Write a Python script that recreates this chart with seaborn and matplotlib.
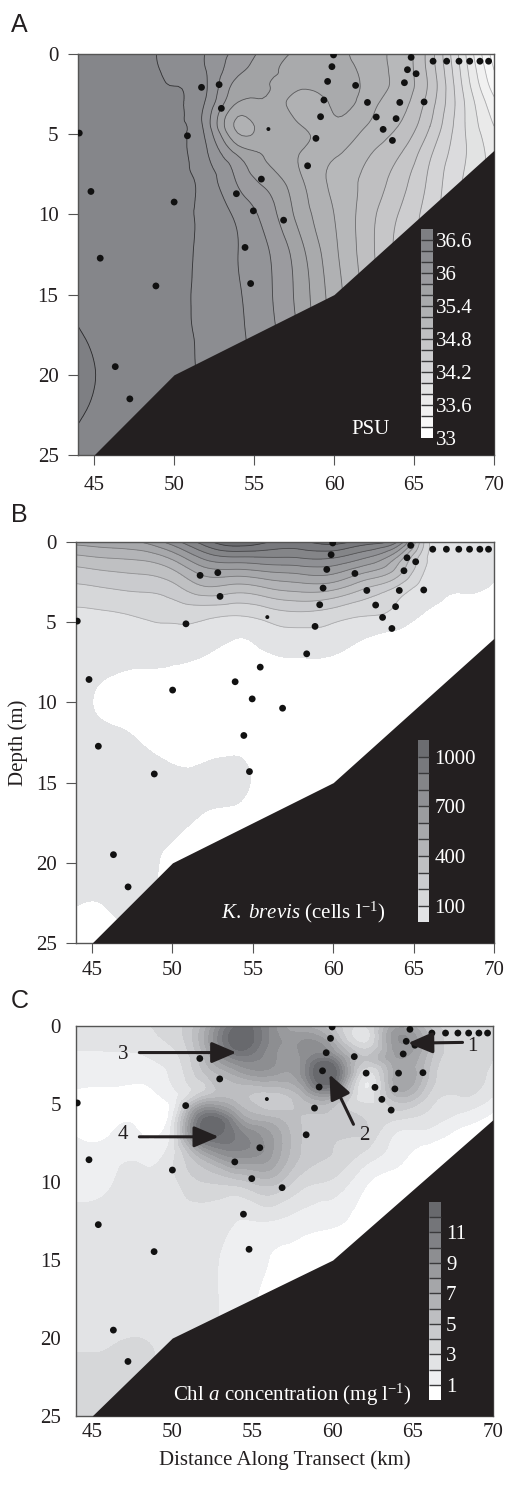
import numpy as np
import matplotlib
matplotlib.use("Agg")
import matplotlib.pyplot as plt
import matplotlib.tri as mtri
from matplotlib.colors import ListedColormap
import seaborn as sns

# ---------------- data ----------------
GRID_KM = [44, 46, 48, 50, 52, 54, 56, 58, 60, 62, 64, 66, 68, 70]
GRID_DEPTH_M = [0, 1, 2, 3, 4.5, 6, 8, 10, 12.5, 15, 17.5, 20, 22.5, 25]

# salinity (PSU), one row per depth of GRID_DEPTH_M, columns along GRID_KM
SALINITY_BY_DEPTH = [
    [36.50, 36.50, 36.47, 36.33, 36.19, 35.93, 35.70, 35.55, 35.45, 35.30, 35.15, 34.70, 33.90, 33.10],
    [36.50, 36.50, 36.47, 36.36, 36.20, 35.85, 35.65, 35.52, 35.48, 35.33, 35.15, 34.72, 33.95, 33.20],
    [36.50, 36.50, 36.47, 36.40, 36.22, 35.72, 35.60, 35.45, 35.50, 35.35, 35.15, 34.75, 34.00, 33.30],
    [36.50, 36.50, 36.47, 36.42, 36.18, 35.60, 35.57, 35.25, 35.45, 35.30, 35.10, 34.70, 34.05, 33.45],
    [36.50, 36.50, 36.47, 36.43, 36.12, 35.35, 35.55, 35.40, 35.35, 35.20, 35.00, 34.60, 34.05, 33.60],
    [36.50, 36.50, 36.47, 36.43, 36.22, 35.70, 35.55, 35.40, 35.25, 35.05, 34.85, 34.45, 34.05, 33.70],
    [36.50, 36.50, 36.47, 36.43, 36.32, 35.98, 35.72, 35.42, 35.15, 34.95, 34.70, 34.35, 34.00, 33.75],
    [36.50, 36.50, 36.47, 36.43, 36.36, 36.15, 35.88, 35.50, 35.20, 34.90, 34.60, 34.30, 34.00, 33.80],
    [36.52, 36.50, 36.47, 36.43, 36.36, 36.20, 36.00, 35.65, 35.25, 34.90, 34.55, 34.30, 34.00, 33.80],
    [36.55, 36.50, 36.47, 36.43, 36.36, 36.22, 36.02, 35.70, 35.30, 34.95, 34.60, 34.30, 34.00, 33.80],
    [36.62, 36.52, 36.47, 36.43, 36.37, 36.24, 36.05, 35.75, 35.35, 35.00, 34.65, 34.30, 34.00, 33.80],
    [36.68, 36.55, 36.48, 36.43, 36.38, 36.25, 36.08, 35.80, 35.40, 35.05, 34.70, 34.35, 34.00, 33.80],
    [36.62, 36.53, 36.48, 36.43, 36.38, 36.25, 36.08, 35.80, 35.40, 35.05, 34.70, 34.35, 34.00, 33.80],
    [36.55, 36.50, 36.48, 36.43, 36.38, 36.25, 36.08, 35.80, 35.40, 35.05, 34.70, 34.35, 34.00, 33.80],
]

# K. brevis (cells/l), one column per GRID_KM position, rows along GRID_DEPTH_M (negative = absent)
KBREVIS_BY_KM = [
    [530, 370, 250, 170, 80, 60, 55, 55, 55, 55, 55, 50, 5, -50],
    [560, 400, 280, 190, 90, 55, 15, -30, 40, 55, 55, 50, 10, -50],
    [600, 420, 300, 210, 110, 65, -5, -40, 0, 45, 50, 45, 40, -50],
    [750, 520, 360, 250, 130, 60, -10, -50, -40, 30, 30, -30, -50, -50],
    [950, 720, 520, 360, 130, 50, -40, -60, -40, 25, -20, -50, -50, -50],
    [1080, 780, 530, 330, 110, 0, -50, -60, -30, 30, -40, -50, -50, -50],
    [1000, 790, 570, 380, 150, 40, -40, -60, -60, -50, -50, -50, -50, -50],
    [980, 800, 600, 420, 180, 60, -30, -60, -60, -60, -60, -60, -60, -60],
    [1040, 800, 600, 400, 150, 50, -40, -60, -60, -60, -60, -60, -60, -60],
    [950, 700, 480, 280, 110, 0, -50, -60, -60, -60, -60, -60, -60, -60],
    [800, 480, 330, 160, 70, -40, -50, -60, -60, -60, -60, -60, -60, -60],
    [90, 80, 60, 40, -20, -60, -60, -60, -60, -60, -60, -60, -60, -60],
    [60, 55, 50, 10, -50, -60, -60, -60, -60, -60, -60, -60, -60, -60],
    [50, 45, 15, -20, -50, -60, -60, -60, -60, -60, -60, -60, -60, -60],
]

# Chl a (mg/l), one column per GRID_KM position, rows along GRID_DEPTH_M
CHL_BY_KM = [
    [2.5, 2.3, 1.8, 1.5, 0.8, 0.7, 1.3, 1.7, 2.3, 2.5, 2.5, 2.8, 3.3, 3.5],
    [2.6, 2.3, 1.8, 1.4, 0.7, 0.6, 1.4, 1.9, 2.4, 2.6, 2.6, 2.9, 3.2, 3.3],
    [2.8, 2.4, 1.9, 1.4, 0.6, 0.6, 1.6, 2.2, 2.5, 2.6, 2.7, 3.0, 3.2, 3.2],
    [3.5, 3.2, 2.6, 2.2, 1.5, 2.0, 2.6, 2.7, 2.6, 2.6, 2.6, 2.8, 2.8, 2.8],
    [6.5, 7.0, 6.0, 5.0, 5.0, 12.2, 8.0, 4.0, 2.5, 2.3, 2.3, 2.4, 2.4, 2.4],
    [12.0, 12.8, 10.5, 7.5, 5.5, 9.0, 10.0, 4.5, 2.0, 1.6, 1.5, 1.5, 1.5, 1.5],
    [10.0, 10.0, 9.5, 8.5, 4.5, 6.5, 8.5, 5.5, 2.0, 1.0, 0.8, 0.8, 0.8, 0.8],
    [7.0, 9.0, 9.0, 9.0, 6.0, 5.0, 5.0, 3.5, 1.5, 0.7, 0.5, 0.5, 0.5, 0.5],
    [5.0, 7.0, 10.0, 13.0, 7.5, 4.5, 4.0, 2.8, 1.2, 0.4, 0.3, 0.3, 0.3, 0.3],
    [3.0, 2.8, 5.0, 3.0, 2.4, 4.0, 3.0, 1.2, 0.5, 0.2, 0.2, 0.2, 0.2, 0.2],
    [7.5, 8.8, 8.0, 7.5, 6.0, 3.0, 1.5, 0.5, 0.2, 0.2, 0.2, 0.2, 0.2, 0.2],
    [5.0, 6.0, 5.5, 5.0, 3.8, 2.5, 0.6, 0.2, 0.2, 0.2, 0.2, 0.2, 0.2, 0.2],
    [3.5, 3.5, 3.5, 3.3, 3.0, 1.5, 0.2, 0.2, 0.2, 0.2, 0.2, 0.2, 0.2, 0.2],
    [3.0, 3.0, 3.0, 2.8, 2.0, 0.6, 0.2, 0.2, 0.2, 0.2, 0.2, 0.2, 0.2, 0.2],
]

STATION_KM = [44.08, 44.81, 45.39, 46.33, 47.24, 48.87, 50.01, 50.84, 51.72, 52.82,
              52.96, 53.90, 54.44, 54.79, 54.96, 55.46, 55.90, 56.85, 58.35, 58.87,
              59.16, 59.37, 59.60, 59.87, 59.97, 61.35, 62.09, 62.64, 63.07, 63.65,
              63.88, 64.11, 64.40, 64.59, 64.82, 65.13, 65.63, 66.19, 67.04, 67.81,
              68.48, 69.12, 69.66]
STATION_DEPTH_M = [4.93, 8.57, 12.73, 19.49, 21.50, 14.46, 9.23, 5.10, 2.08, 1.91,
                   3.39, 8.71, 12.06, 14.31, 9.78, 7.80, 4.68, 10.36, 6.97, 5.26,
                   3.91, 2.87, 1.71, 0.79, 0.06, 1.96, 3.02, 3.93, 4.70, 5.39,
                   4.03, 3.02, 1.79, 0.98, 0.21, 1.23, 2.99, 0.45, 0.45, 0.45,
                   0.45, 0.45, 0.45]
SMALL_CAST_STATIONS = [16]

SEAFLOOR_KM = [45, 50, 60, 70]
SEAFLOOR_DEPTH_M = [25, 20, 15, 6]

SAL_LEVELS = [round(33.0 + 0.2 * i, 1) for i in range(20)]
SAL_TICKS = [33, 33.6, 34.2, 34.8, 35.4, 36, 36.6]
SAL_TICKLABELS = ["33", "33.6", "34.2", "34.8", "35.4", "36", "36.6"]
KB_LEVELS = [0, 100, 200, 300, 400, 500, 600, 700, 800, 900, 1000, 1100]
KB_TICKS = [100, 400, 700, 1000]
CHL_LEVELS = list(range(0, 14))
CHL_TICKS = [1, 3, 5, 7, 9, 11]

KM_TICKS = [45, 50, 55, 60, 65, 70]
DEPTH_TICKS = [0, 5, 10, 15, 20, 25]

# arrows in panel C: (label, label_km, label_depth, tail_km, tail_depth, tip_km, tip_depth)
CHL_MAXIMA = [
    ("1", 68.7, 1.3, 68.1, 1.05, 64.7, 1.1),
    ("2", 62.0, 7.0, 61.3, 6.3, 59.8, 3.1),
    ("3", 46.95, 1.8, 47.95, 1.7, 54.0, 1.7),
    ("4", 46.95, 6.95, 47.95, 7.1, 52.9, 7.1),
]

# ---------------- style ----------------
sns.set_theme(style="white")
plt.rcParams["font.family"] = ["Liberation Serif", "DejaVu Serif"]
plt.rcParams["mathtext.fontset"] = "custom"
plt.rcParams["mathtext.rm"] = "Liberation Serif"
plt.rcParams["mathtext.it"] = "Liberation Serif:italic"

INK = "#231f20"
SPINE = "#555555"


def ramp(c0, c1, n):
    c0 = np.array(c0, float) / 255.0
    c1 = np.array(c1, float) / 255.0
    return [tuple(c0 + (c1 - c0) * i / (n - 1)) for i in range(n)]


sal_cmap = ListedColormap(ramp((255, 255, 255), (126, 127, 131), 19))
sal_line_colors = ramp((185, 185, 187), (40, 40, 42), 18)
kb_cmap = ListedColormap(ramp((226, 227, 229), (108, 109, 113), 11))
kb_line_colors = ramp((170, 170, 172), (60, 60, 62), 10)
chl_cmap = ListedColormap([(1, 1, 1)] + ramp((238, 239, 241), (104, 105, 109), 12))

fig = plt.figure(figsize=(5.08, 14.87), dpi=100)
ax_a = fig.add_axes([0.1535, 0.694, 0.819, 0.2697])
ax_b = fig.add_axes([0.1496, 0.3658, 0.8228, 0.2697])
ax_c = fig.add_axes([0.1496, 0.0477, 0.8209, 0.2623])

gx, gd = np.meshgrid(np.array(GRID_KM, float), np.array(GRID_DEPTH_M, float))
base_tri = mtri.Triangulation(gx.ravel(), gd.ravel())
refiner = mtri.UniformTriRefiner(base_tri)


def smooth(field):
    tri_f, z_f = refiner.refine_field(np.asarray(field, float).ravel(), subdiv=3)
    return tri_f, z_f


def frame(ax, tick_len=6, xpad=4, ypad=4):
    ax.set_xlim(44, 70)
    ax.set_ylim(25, 0)
    ax.set_xticks(KM_TICKS)
    ax.set_yticks(DEPTH_TICKS)
    ax.set_xticklabels([str(t) for t in KM_TICKS])
    ax.set_yticklabels([str(t) for t in DEPTH_TICKS])
    ax.tick_params(axis="both", direction="out", length=tick_len, width=0.8,
                   color=SPINE, labelsize=15, labelcolor=INK)
    ax.tick_params(axis="x", pad=xpad, bottom=True, top=False)
    ax.tick_params(axis="y", pad=ypad, left=True, right=False)
    for s in ax.spines.values():
        s.set_visible(True)
        s.set_color(SPINE)
        s.set_linewidth(1.0)
    ax.set_xlabel("")
    ax.set_ylabel("")


def seafloor(ax):
    ax.fill_between(SEAFLOOR_KM, SEAFLOOR_DEPTH_M, 25, color=INK, lw=0, zorder=3)


def stations(ax):
    big = [i for i in range(len(STATION_KM)) if i not in SMALL_CAST_STATIONS]
    sns.scatterplot(x=[STATION_KM[i] for i in big], y=[STATION_DEPTH_M[i] for i in big],
                    ax=ax, s=24, color="#111111", edgecolor="none", linewidth=0, zorder=5)
    sns.scatterplot(x=[STATION_KM[i] for i in SMALL_CAST_STATIONS],
                    y=[STATION_DEPTH_M[i] for i in SMALL_CAST_STATIONS],
                    ax=ax, s=8, color="#111111", edgecolor="none", linewidth=0, zorder=5)


def legend_bar(ax, cs, rect, ticks, labels, pad):
    cax = ax.inset_axes(rect)
    cax.set_zorder(6)
    cb = fig.colorbar(cs, cax=cax, ticks=ticks, drawedges=True)
    cb.outline.set_visible(False)
    cb.dividers.set_color("#3a3a3c")
    cb.dividers.set_linewidth(1.0)
    cb.set_ticklabels(labels)
    cax.tick_params(length=0, labelcolor="white", labelsize=15, pad=pad)
    for t in cax.get_yticklabels():
        t.set_fontfamily("Liberation Serif")
    return cb


# ---------------- panel A ----------------
tri_a, z_a = smooth(SALINITY_BY_DEPTH)
z_a = np.clip(z_a, 33.0, 36.79)
cs_a = ax_a.tricontourf(tri_a, z_a, levels=SAL_LEVELS, cmap=sal_cmap, zorder=1)
ax_a.tricontour(tri_a, z_a, levels=SAL_LEVELS[1:-1], colors=sal_line_colors,
                linewidths=0.6, zorder=2)
seafloor(ax_a)
stations(ax_a)
frame(ax_a, tick_len=7, xpad=8, ypad=7)
legend_bar(ax_a, cs_a, [0.8245, 0.042, 0.029, 0.521], SAL_TICKS, SAL_TICKLABELS, 2)
ax_a.text(62.3, 23.4, "PSU", color="white", fontsize=15, ha="center", va="center", zorder=7)

# ---------------- panel B ----------------
kb_grid = np.array(KBREVIS_BY_KM, float).T
tri_b, z_b = smooth(kb_grid)
z_b = np.clip(z_b, -100, 1099)
cs_b = ax_b.tricontourf(tri_b, z_b, levels=KB_LEVELS, cmap=kb_cmap, zorder=1)
ax_b.tricontour(tri_b, z_b, levels=KB_LEVELS[1:-1], colors=kb_line_colors,
                linewidths=0.6, zorder=2)
seafloor(ax_b)
stations(ax_b)
frame(ax_b, tick_len=7, xpad=6, ypad=7)
legend_bar(ax_b, cs_b, [0.818, 0.052, 0.026, 0.454], KB_TICKS,
           [str(t) for t in KB_TICKS], 4)
ax_b.text(58.1, 23.1, r"$\it{K.\ brevis}$ (cells l$^{-1}$)", color="white", fontsize=15,
          ha="center", va="center", zorder=7)

# ---------------- panel C ----------------
chl_grid = np.array(CHL_BY_KM, float).T
tri_c, z_c = smooth(chl_grid)
z_c = np.clip(z_c, -1, 12.99)
cs_c = ax_c.tricontourf(tri_c, z_c, levels=CHL_LEVELS, cmap=chl_cmap, zorder=1)
seafloor(ax_c)
stations(ax_c)
frame(ax_c, tick_len=0, xpad=5, ypad=11)
legend_bar(ax_c, cs_c, [0.8465, 0.041, 0.029, 0.508], CHL_TICKS,
           [str(t) for t in CHL_TICKS], 3.5)
ax_c.text(57.5, 23.65, r"Chl $\it{a}$ concentration (mg l$^{-1}$)", color="white",
          fontsize=15, ha="center", va="center", zorder=7)
for lab, lx, ly, tx, ty, hx, hy in CHL_MAXIMA:
    ax_c.annotate("", xy=(hx, hy), xytext=(tx, ty), zorder=8,
                  arrowprops=dict(arrowstyle="-|>,head_length=0.75,head_width=0.32",
                                  lw=2.2, color=INK, mutation_scale=20,
                                  shrinkA=0, shrinkB=0))
    ax_c.text(lx, ly, lab, fontsize=15, color=INK, ha="center", va="center", zorder=8)

# ---------------- labels ----------------
for letter, fy in (("A", 0.9785), ("B", 0.649), ("C", 0.3221)):
    fig.text(0.022, fy, letter, fontsize=18, color=INK, family="Liberation Sans",
             ha="left", va="baseline")
fig.text(0.036, 0.5003, "Depth (m)", rotation=90, fontsize=15, color=INK,
         ha="center", va="center")
fig.text(0.56, 0.018, "Distance Along Transect (km)", fontsize=15, color=INK,
         ha="center", va="center")

fig.savefig("out.png", dpi=100, facecolor="white")
